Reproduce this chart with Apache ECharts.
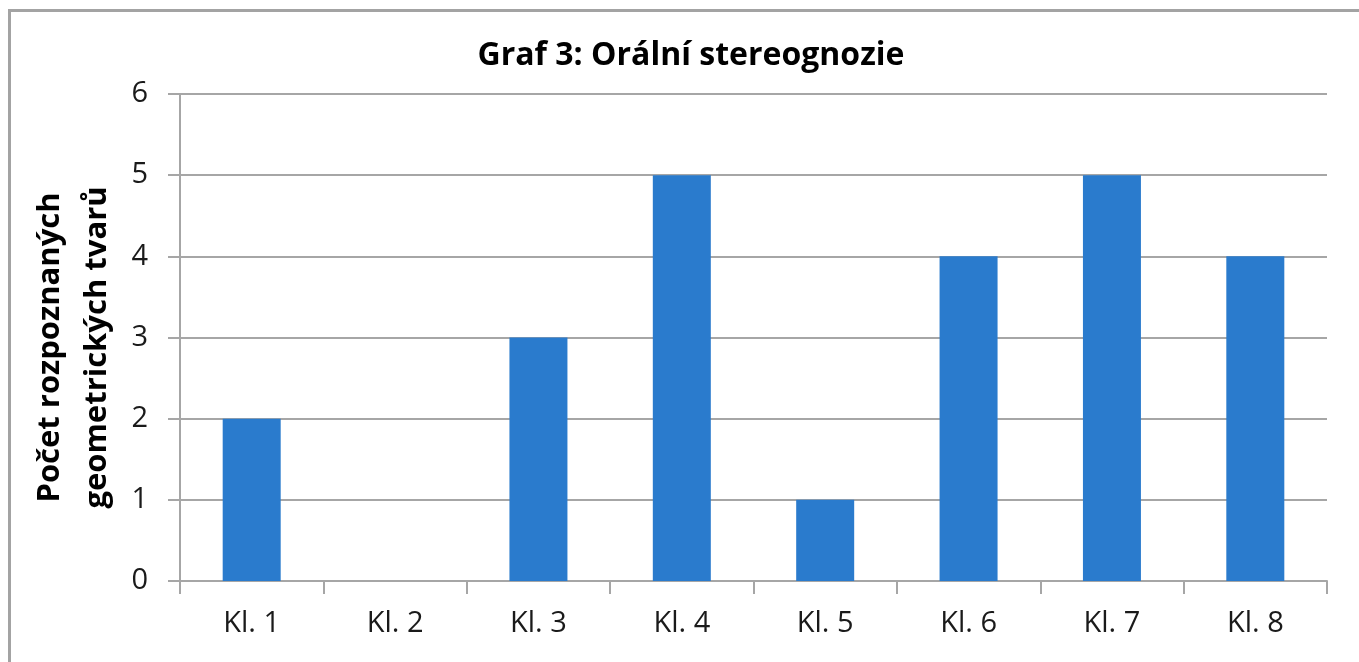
<!DOCTYPE html>
<html>
<head>
<meta charset="utf-8">
<script src="https://cdn.jsdelivr.net/npm/echarts@6/dist/echarts.min.js"></script>
<style>
  html, body { margin: 0; padding: 0; background: #fff; overflow: hidden; }
  #frame { position: absolute; left: 8px; top: 9px; width: 1400px; height: 700px; border: 3px solid #a3a3a3; box-sizing: border-box; }
  #chart { position: absolute; left: 0; top: 0; width: 1359px; height: 662px; }
</style>
</head>
<body>
<div id="frame"></div>
<div id="chart"></div>
<script>
const categories = ['Kl. 1', 'Kl. 2', 'Kl. 3', 'Kl. 4', 'Kl. 5', 'Kl. 6', 'Kl. 7', 'Kl. 8']
const values = [2, 0, 3, 5, 1, 4, 5, 4]
const titleText = 'Graf 3: Orální stereognozie'
const yName = 'Počet rozpoznaných\ngeometrických tvarů'

const font = 'Open Sans'
const gridColor = '#a6a6a6'

const chart = echarts.init(document.getElementById('chart'))
chart.setOption({
  animation: false,
  title: {
    text: titleText,
    left: 686,
    top: 35,
    textAlign: 'center',
    textStyle: { fontFamily: font, fontSize: 32, fontWeight: 'bold', color: '#000' },
  },
  grid: { left: 180, right: 32, top: 94, bottom: 81, outerBoundsMode: 'none' },
  xAxis: {
    type: 'category',
    data: categories,
    axisLine: { lineStyle: { color: gridColor, width: 2 } },
    axisTick: { show: true, length: 13, lineStyle: { color: gridColor, width: 2 } },
    axisLabel: { fontFamily: font, fontSize: 29, color: '#1a1a1a', margin: 28 },
  },
  yAxis: {
    type: 'value',
    min: 0,
    max: 6,
    interval: 1,
    name: yName,
    nameLocation: 'middle',
    nameRotate: 90,
    nameGap: 50,
    nameTextStyle: { fontFamily: font, fontSize: 31, fontWeight: 'bold', color: '#000', lineHeight: 47, padding: [0, 20, 0, 0] },
    axisLine: { show: true, lineStyle: { color: gridColor, width: 2 } },
    axisTick: { show: true, length: 12, lineStyle: { color: gridColor, width: 2 } },
    axisLabel: { fontFamily: font, fontSize: 29, color: '#1a1a1a', margin: 32 },
    splitLine: { lineStyle: { color: gridColor, width: 2 } },
  },
  series: [{
    type: 'bar',
    data: values,
    barWidth: 58,
    itemStyle: { color: '#2a7bcd' },
  }],
})
</script>
</body>
</html>
